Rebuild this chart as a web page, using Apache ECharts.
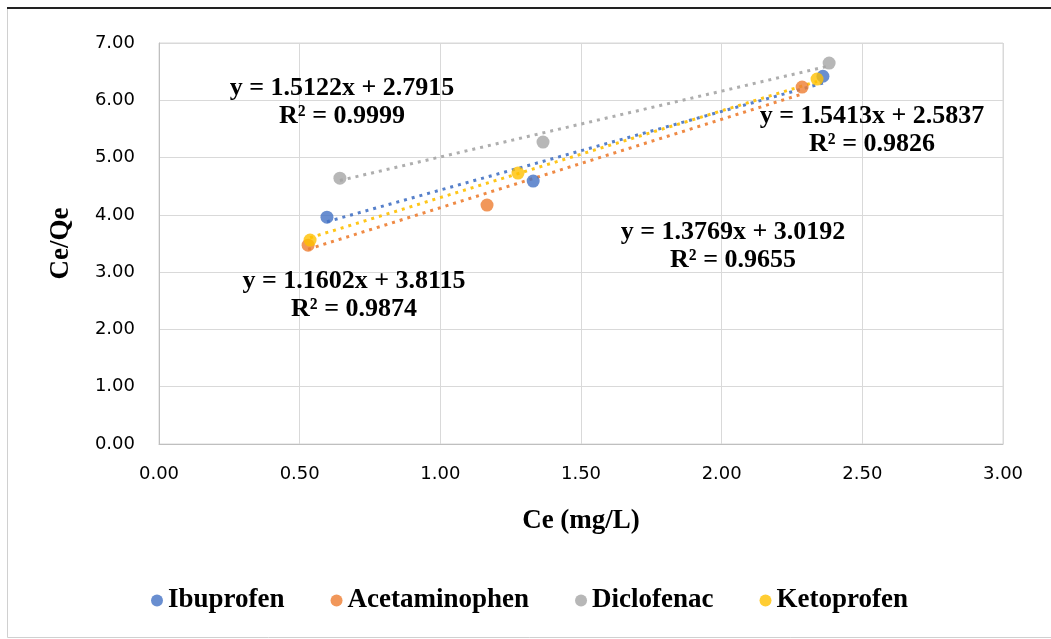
<!DOCTYPE html>
<html>
<head>
<meta charset="utf-8">
<title>Ce/Qe vs Ce</title>
<script src="https://cdn.jsdelivr.net/npm/echarts@6/dist/echarts.min.js"></script>
<style>
    html, body { margin: 0; padding: 0; background: #fff; }
    #chart { width: 1051px; height: 639px; }
</style>
</head>
<body>
<div id="chart"></div>
<script>
// Series names and colours (Excel default palette)
const seriesNames = ['Ibuprofen', 'Acetaminophen', 'Diclofenac', 'Ketoprofen'];
const seriesColors = ['#4472c4', '#ed7d31', '#a5a5a5', '#ffc000'];

const ibuprofen = [[0.597, 3.96], [1.33, 4.59], [2.36, 6.42]];
const acetaminophen = [[0.53, 3.47], [1.166, 4.17], [2.286, 6.23]];
const diclofenac = [[0.643, 4.64], [1.365, 5.27], [2.382, 6.65]];
const ketoprofen = [[0.537, 3.56], [1.276, 4.73], [2.339, 6.37]];

// Trendline ends
const ibuprofenTrend = [[0.597, 3.88], [2.36, 6.3]];
const acetaminophenTrend = [[0.53, 3.4], [2.286, 6.11]];
const diclofenacTrend = [[0.643, 4.6], [2.382, 6.6]];
const ketoprofenTrend = [[0.537, 3.6], [2.339, 6.33]];

// Trendline equations as printed on the chart
const equations = [
    'y = 1.5122x + 2.7915\nR² = 0.9999',
    'y = 1.5413x + 2.5837\nR² = 0.9826',
    'y = 1.3769x + 3.0192\nR² = 0.9655',
    'y = 1.1602x + 3.8115\nR² = 0.9874',
];

const pointSets = [ibuprofen, acetaminophen, diclofenac, ketoprofen];
const trendSets = [ibuprofenTrend, acetaminophenTrend, diclofenacTrend, ketoprofenTrend];

const serifFont = '"Liberation Serif", "Times New Roman", serif';
const tickFont = '"DejaVu Sans", sans-serif';

let chart = echarts.init(document.getElementById('chart'));

let series = [];
// Trendlines first so the markers sit on top
trendSets.forEach((trend, i) => {
    series.push({
        name: seriesNames[i] + ' trend',
        type: 'line',
        data: trend,
        symbol: 'none',
        silent: true,
        z: 1,
        lineStyle: {
            color: seriesColors[i],
            width: 3,
            type: [3, 5],
            opacity: 0.9,
        },
    });
});
pointSets.forEach((points, i) => {
    series.push({
        name: seriesNames[i],
        type: 'scatter',
        data: points,
        symbol: 'circle',
        symbolSize: 13,
        z: 3,
        itemStyle: { color: seriesColors[i] },
    });
});

function equationText(text, x, y) {
    return {
        type: 'text',
        x: x,
        y: y,
        z: 10,
        style: {
            text: text,
            font: 'bold 26px ' + serifFont,
            fill: '#000',
            align: 'center',
            verticalAlign: 'middle',
            lineHeight: 28,
        },
    };
}

let option = {
    animation: false,
    backgroundColor: '#fff',
    grid: {
        left: 159,
        right: 48,
        top: 43,
        bottom: 195,
        show: true,
        borderColor: '#d9d9d9',
        borderWidth: 1,
    },
    legend: {
        data: seriesNames,
        left: 146,
        top: 582,
        icon: 'circle',
        itemWidth: 12,
        itemHeight: 12,
        itemGap: 46,
        textStyle: {
            fontFamily: serifFont,
            fontWeight: 'bold',
            fontSize: 27,
            color: '#000',
        },
    },
    xAxis: {
        type: 'value',
        min: 0,
        max: 3,
        interval: 0.5,
        name: 'Ce (mg/L)',
        nameLocation: 'middle',
        nameGap: 64,
        nameTextStyle: {
            fontFamily: serifFont,
            fontWeight: 'bold',
            fontSize: 27,
            color: '#000',
        },
        axisLine: { show: true, lineStyle: { color: '#bfbfbf' } },
        axisTick: { show: false },
        axisLabel: {
            margin: 21,
            fontFamily: tickFont,
            fontSize: 18,
            color: '#000',
            formatter: (v) => v.toFixed(2),
        },
        splitLine: { lineStyle: { color: '#d9d9d9' } },
    },
    yAxis: {
        type: 'value',
        min: 0,
        max: 7,
        interval: 1,
        name: 'Ce/Qe',
        nameLocation: 'middle',
        nameRotate: 90,
        nameGap: 84,
        nameTextStyle: {
            fontFamily: serifFont,
            fontWeight: 'bold',
            fontSize: 27,
            color: '#000',
        },
        axisLine: { show: true, lineStyle: { color: '#bfbfbf' } },
        axisTick: { show: false },
        axisLabel: {
            margin: 24,
            fontFamily: tickFont,
            fontSize: 18,
            color: '#000',
            formatter: (v) => v.toFixed(2),
        },
        splitLine: { lineStyle: { color: '#d9d9d9' } },
    },
    graphic: [
        // outer chart frame
        {
            type: 'rect',
            z: -1,
            shape: { x: 7.5, y: 8.5, width: 1060, height: 629 },
            style: { fill: 'none', stroke: '#d0d0d0', lineWidth: 1 },
        },
        {
            type: 'line',
            z: 0,
            shape: { x1: 7, y1: 8, x2: 1051, y2: 8 },
            style: { stroke: '#222', lineWidth: 2 },
        },
        equationText(equations[0], 342, 102),
        equationText(equations[1], 872, 130),
        equationText(equations[2], 733, 246),
        equationText(equations[3], 354, 295),
    ],
    series: series,
};
chart.setOption(option);
</script>
</body>
</html>
